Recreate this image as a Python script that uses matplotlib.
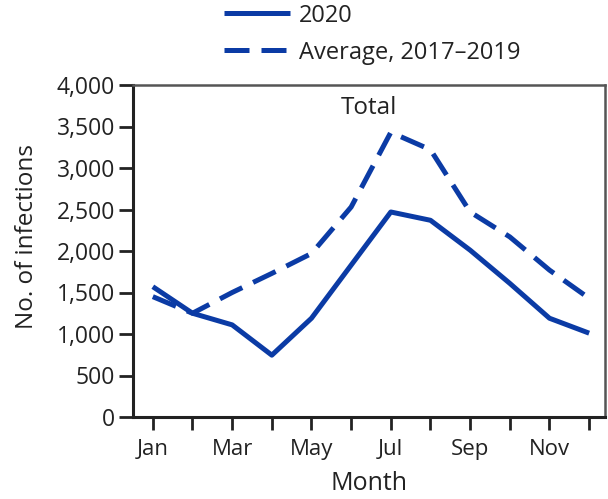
import matplotlib
matplotlib.use("Agg")
import matplotlib.pyplot as plt
from matplotlib.ticker import FuncFormatter

plt.rcParams['font.family'] = ['Open Sans', 'DejaVu Sans']

months = ["Jan", "Feb", "Mar", "Apr", "May", "Jun", "Jul", "Aug", "Sep", "Oct", "Nov", "Dec"]
values_2020 = [1570, 1250, 1110, 745, 1190, 1830, 2470, 2370, 2010, 1610, 1190, 1010]
values_avg = [1450, 1250, 1500, 1730, 1970, 2530, 3430, 3220, 2470, 2170, 1770, 1430]
yticks = [0, 500, 1000, 1500, 2000, 2500, 3000, 3500, 4000]

color = '#0b3ba5'
txt = '#222222'
fig = plt.figure(figsize=(6.08, 4.99), dpi=100)
ax = fig.add_axes([133/608, 1 - 417/499, (605-133)/608, (417-85)/499])

x = list(range(1, 13))
l1, = ax.plot(x, values_2020, color=color, lw=3.6, solid_capstyle='butt', label='2020')
l2, = ax.plot(x, values_avg, color=color, lw=3.6, dashes=(5.0, 2.4), dash_capstyle='butt',
              label='Average, 2017–2019')

ax.set_xlim(0.5, 12.4)
ax.set_ylim(0, 4000)
ax.set_xticks(x)
ax.set_xticklabels([m if i % 2 == 0 else '' for i, m in enumerate(months)], fontsize=16)
ax.set_yticks(yticks)
ax.yaxis.set_major_formatter(FuncFormatter(lambda v, p: f"{int(v):,}"))
ax.tick_params(axis='y', labelsize=16.5, length=10, width=2, pad=3, colors=txt)
ax.tick_params(axis='x', length=9, width=2, pad=7, colors=txt)
for s in ['left', 'bottom']:
    ax.spines[s].set_linewidth(2.2)
    ax.spines[s].set_color(txt)
for s in ['top', 'right']:
    ax.spines[s].set_linewidth(1.8)
    ax.spines[s].set_color('#555555')

ax.set_xlabel('Month', fontsize=18, color=txt, labelpad=8)
ax.set_ylabel('No. of infections', fontsize=17.5, color=txt)
ax.yaxis.set_label_coords(-0.2, 0.545)
ax.text(0.5, 0.93, 'Total', transform=ax.transAxes, ha='center', va='center', fontsize=17.5, color=txt)

fig.legend(handles=[l1, l2], loc='upper left', bbox_to_anchor=(220/608, 1.0), frameon=False,
           borderaxespad=0, borderpad=0.15,
           fontsize=17, handlelength=2.8, handletextpad=0.4, labelspacing=0.55, labelcolor=txt)

fig.savefig('out.png', dpi=100)
